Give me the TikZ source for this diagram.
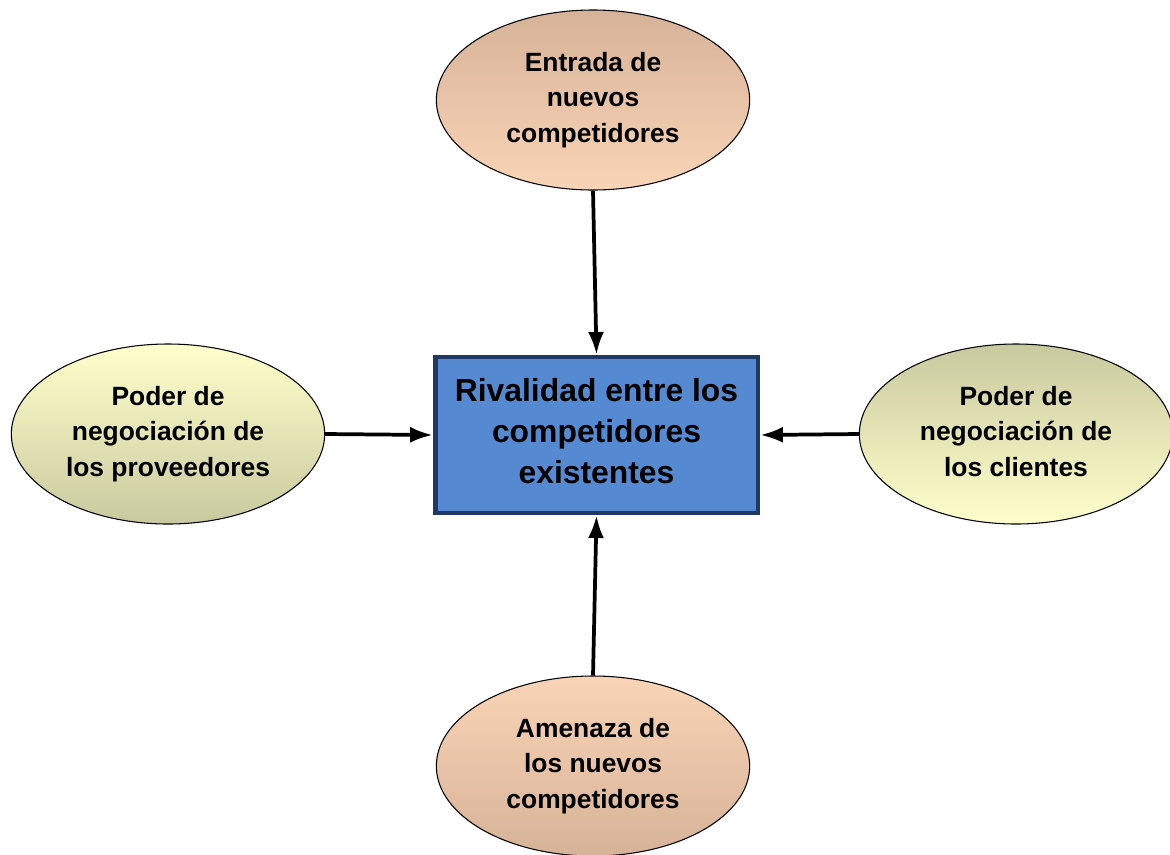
\documentclass[tikz,border=0pt]{standalone}
\usepackage{fontspec}
\setmainfont{Liberation Sans}
\usetikzlibrary{shapes.geometric,arrows.meta}
\definecolor{peachdark}{HTML}{D6B298}
\definecolor{peachlight}{HTML}{FAD4B6}
\definecolor{olivedark}{HTML}{C9C9A0}
\definecolor{olivelight}{HTML}{FFFFCC}
\definecolor{boxfill}{HTML}{558AD3}
\definecolor{boxline}{HTML}{1F3864}

\begin{document}
\begin{tikzpicture}[x=0.75pt,y=-0.75pt]
        \useasboundingbox (0,0) rectangle (1170,854);
        \begin{scope}[every node/.style={ellipse,draw=black,thick,inner sep=0pt,align=center,
                minimum width=235pt,minimum height=135pt,
                font=\fontsize{19.8}{26.5}\selectfont\bfseries}]
            \node[top color=peachdark,bottom color=peachlight] (e) at (593,100) {Entrada de\\nuevos\\competidores};
            \node[top color=olivelight,bottom color=olivedark] (p) at (168,434) {Poder de\\negociación de\\los proveedores};
            \node[top color=olivedark,bottom color=olivelight,text depth=4pt] (c) at (1016,434) {Poder de\\negociación de\\los clientes};
            \node[top color=peachlight,bottom color=peachdark] (a) at (593,766) {Amenaza de\\los nuevos\\competidores};
        \end{scope}
        \node[draw=boxline,line width=3.5pt,fill=boxfill,minimum width=242pt,minimum height=117pt,
            inner sep=0pt,text depth=6pt,align=center,font=\fontsize{23.9}{31}\selectfont\bfseries] (r) at (596.5,435)
            {Rivalidad entre los\\competidores\\existentes};
        \begin{scope}[every edge/.style={draw,line width=2.8pt,-{Latex[length=17pt,width=12pt]}}]
            \path (e.south) edge (r.north);
            \path (p.east) edge (r.west);
            \path (c.west) edge (r.east);
            \path (a.north) edge (r.south);
        \end{scope}
    \end{tikzpicture}
\end{document}
